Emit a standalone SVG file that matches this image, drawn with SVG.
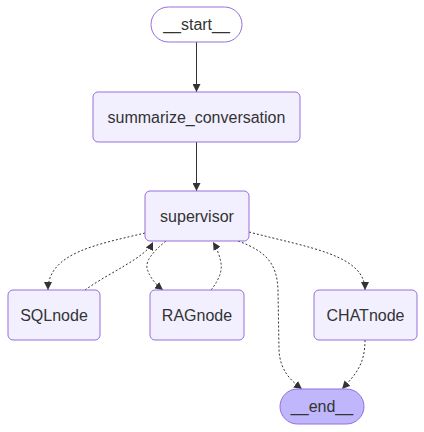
<svg xmlns="http://www.w3.org/2000/svg" width="424" height="432" viewBox="0 0 424 432">
<style>
.node rect{fill:#f2f0ff;stroke:#9370db;stroke-width:1}
.node.first rect{fill:#ffffff}
.node.last rect{fill:#bfb6fc}
.node text{font-family:"Liberation Sans",Arial,sans-serif;font-size:16px;fill:#333333;text-anchor:middle;dominant-baseline:central}
.edge{fill:none;stroke:#333333;stroke-width:1}
.dotted{stroke-dasharray:2 2}
</style>
<defs>
<marker id="arrow" viewBox="0 0 10 10" refX="10" refY="5" markerWidth="8" markerHeight="8" markerUnits="userSpaceOnUse" orient="auto">
<path d="M0,0 L10,5 L0,10 z" fill="#333333"/>
</marker>
</defs>
<rect width="424" height="432" fill="#ffffff"/>
<g id="connectors">
<path class="edge" d="M196.5,42 L196.5,92" marker-end="url(#arrow)"/>
<path class="edge" d="M196.5,142 L196.5,191" marker-end="url(#arrow)"/>
<path class="edge dotted" d="M145,233 C100,244 48,252 48,290" marker-end="url(#arrow)"/>
<path class="edge dotted" d="M85,290 C110,272 145,258 153,242" marker-end="url(#arrow)"/>
<path class="edge dotted" d="M166,241 Q145,258 147,268 Q150,280 163,290" marker-end="url(#arrow)"/>
<path class="edge dotted" d="M211,290 Q223,275 221,263 Q219,252 213,242" marker-end="url(#arrow)"/>
<path class="edge dotted" d="M238,241 C268,252 277,265 278,290 L279,350 C280,370 290,380 302,389" marker-end="url(#arrow)"/>
<path class="edge dotted" d="M249,232 C310,248 365,255 365,290" marker-end="url(#arrow)"/>
<path class="edge dotted" d="M365,340 C365,365 355,375 342,389" marker-end="url(#arrow)"/>
</g>
<g id="start" class="node first">
<rect x="151" y="7" width="91" height="35" rx="17.5" ry="17.5"/>
<text x="196.5" y="24.5">__start__</text>
</g>
<g id="summarize_conversation" class="node">
<rect x="93" y="92" width="207" height="50" rx="5" ry="5"/>
<text x="196.5" y="117">summarize_conversation</text>
</g>
<g id="supervisor" class="node">
<rect x="145" y="191" width="104" height="50" rx="5" ry="5"/>
<text x="197" y="216">supervisor</text>
</g>
<g id="SQLnode" class="node">
<rect x="8" y="290" width="92" height="50" rx="5" ry="5"/>
<text x="54" y="315">SQLnode</text>
</g>
<g id="RAGnode" class="node">
<rect x="150" y="290" width="94" height="50" rx="5" ry="5"/>
<text x="197" y="315">RAGnode</text>
</g>
<g id="CHATnode" class="node">
<rect x="314" y="290" width="103" height="50" rx="5" ry="5"/>
<text x="365.5" y="315">CHATnode</text>
</g>
<g id="end" class="node last">
<rect x="280" y="389" width="84" height="35" rx="17.5" ry="17.5"/>
<text x="322" y="406.5">__end__</text>
</g>
</svg>
